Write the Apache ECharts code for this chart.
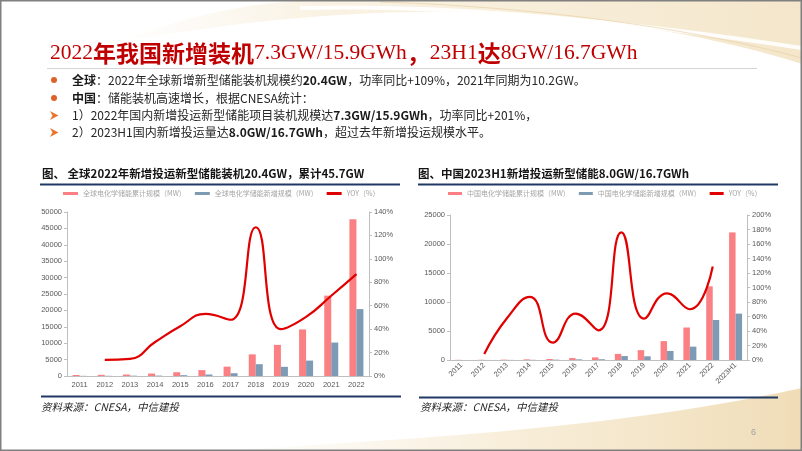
<!DOCTYPE html>
<html>
<head>
<meta charset="utf-8">
<script src="https://cdn.jsdelivr.net/npm/echarts@6/dist/echarts.min.js"></script>
<style>
html,body{margin:0;padding:0;background:#fff;}
#c{width:802px;height:451px;}
</style>
</head>
<body>
<div id="c"></div>
<script>
// ---- data ----
const years1 = ['2011','2012','2013','2014','2015','2016','2017','2018','2019','2020','2021','2022'];
const globalCum = [300, 350, 450, 750, 1150, 1800, 2850, 6600, 9500, 14200, 24500, 47800];
const globalNew = [50, 60, 100, 120, 250, 450, 850, 3600, 2800, 4700, 10200, 20400];
const globalYoy = [null, 13.7, 14.6, 29, 42.5, 53, 48, 127, 40, 50.5, 68.5, 87];

const years2 = ['2011','2012','2013','2014','2015','2016','2017','2018','2019','2020','2021','2022','2023H1'];
const chinaCum = [30, 40, 60, 110, 170, 330, 450, 1050, 1700, 3250, 5600, 12700, 22000];
const chinaNew = [5, 10, 20, 30, 60, 110, 130, 680, 640, 1560, 2300, 6900, 8000];
const chinaYoy = [null, 8.3, 58, 87, 24, 64, 41, 176, 57, 92, 70, 129, null];

const names1 = ['全球电化学储能累计规模（MW）', '全球电化学储能新增规模（MW）', 'YOY（%）'];
const names2 = ['中国电化学储能累计规模（MW）', '中国电化学储能新增规模（MW）', 'YOY（%） '];

const axis1 = {leftMax: 50000, leftStep: 5000, rightMax: 140, rightStep: 20};
const axis2 = {leftMax: 25000, leftStep: 5000, rightMax: 200, rightStep: 20};

// ---- styling ----
const RED_BAR = '#FA8083';
const BLUE_BAR = '#7D9BB5';
const LINE_RED = '#E00000';
const AX = '#bfbfbf';
const LBL = '#595959';
const CJK = '"Noto Sans CJK SC", "Noto Sans", sans-serif';

function valAxis(grid, max, step, right, pct) {
  return {
    type: 'value', gridIndex: grid, min: 0, max: max, interval: step,
    position: right ? 'right' : 'left',
    axisLine: {show: true, lineStyle: {color: AX}},
    axisTick: {show: true, length: 3, lineStyle: {color: AX}},
    splitLine: {show: false},
    axisLabel: {fontSize: 7.5, color: LBL, margin: 5, fontFamily: 'Liberation Sans',
      formatter: function (v) { return pct ? v + '%' : String(v); }}
  };
}
function catAxis(grid, data, rotate) {
  return {
    type: 'category', gridIndex: grid, data: data,
    axisLine: {lineStyle: {color: AX}},
    axisTick: {length: 4, lineStyle: {color: AX}},
    axisLabel: {fontSize: 7.5, color: LBL, margin: rotate ? 4 : 5, interval: 0, rotate: rotate || 0,
      fontFamily: 'Liberation Sans'}
  };
}

// decorative background shape helper (sample cubic beziers into polygon points)
function bez(p0, p1, p2, p3, n) {
  const pts = [];
  for (let i = 0; i <= n; i++) {
    const t = i / n, u = 1 - t;
    pts.push([
      u*u*u*p0[0] + 3*u*u*t*p1[0] + 3*u*t*t*p2[0] + t*t*t*p3[0],
      u*u*u*p0[1] + 3*u*u*t*p1[1] + 3*u*t*t*p2[1] + t*t*t*p3[1]
    ]);
  }
  return pts;
}

const topShape = [].concat(
  bez([120, 42], [180, 18], [250, 0], [330, 0], 20),
  [[802, 0], [802, 64]],
  bez([802, 64], [720, 38], [600, 14], [460, 12], 20),
  bez([460, 12], [340, 10], [220, 24], [120, 42], 20)
);
const bottomShape = [].concat(
  bez([220, 451], [380, 440], [600, 432], [802, 388], 30),
  [[802, 451]]
);

const chart = echarts.init(document.getElementById('c'), null, {renderer: 'canvas'});

const bulletRich = {
  b: {fontWeight: 'bold', fontSize: 12, fontFamily: CJK, fill: '#1a1a1a'}
};

function bulletText(y, txt) {
  return {type: 'text', x: 72, y: y, style: {text: txt, font: '12px ' + CJK, fill: '#262626',
    verticalAlign: 'middle', rich: bulletRich}};
}

const option = {
  animation: false,
  backgroundColor: '#fff',
  graphic: [
    {type: 'polygon', z: -5, shape: {points: topShape},
      style: {fill: new echarts.graphic.LinearGradient(0, 0, 1, 0, [
        {offset: 0, color: 'rgba(245,232,205,0.0)'},
        {offset: 0.3, color: 'rgba(245,232,205,0.55)'},
        {offset: 1, color: 'rgba(240,222,185,0.75)'}])}},
    {type: 'bezierCurve', z: -4, shape: {x1: 300, y1: 8, cpx1: 450, cpy1: 4, cpx2: 620, cpy2: 20, x2: 802, y2: 48},
      style: {fill: null, stroke: 'rgba(255,255,255,0.9)', lineWidth: 4}},
    {type: 'bezierCurve', z: -4, shape: {x1: 380, y1: 2, cpx1: 520, cpy1: 6, cpx2: 680, cpy2: 25, x2: 802, y2: 58},
      style: {fill: null, stroke: 'rgba(230,205,160,0.6)', lineWidth: 1}},
    {type: 'polygon', z: -5, shape: {points: bottomShape},
      style: {fill: new echarts.graphic.LinearGradient(0, 0, 1, 0, [
        {offset: 0, color: 'rgba(245,232,205,0.0)'},
        {offset: 0.5, color: 'rgba(243,226,192,0.6)'},
        {offset: 1, color: 'rgba(236,212,165,0.8)'}])}},
    {type: 'rect', z: 10, shape: {x: 0.75, y: 0.75, width: 800.5, height: 449.5},
      style: {fill: null, stroke: '#808080', lineWidth: 1.5}},
    {type: 'text', x: 50, y: 53, style: {
      text: '{c|2022}{h|年我国新增装机}{c|7.3GW/15.9GWh}{h|，}{c|23H1}{h|达}{c|8GW/16.7GWh}',
      verticalAlign: 'middle', fill: '#C00000',
      rich: {
        c: {fontFamily: 'Liberation Serif', fontSize: 21.5, fill: '#C00000'},
        h: {fontFamily: CJK, fontWeight: 'bold', fontSize: 23, fill: '#C00000'}
      }}},
    {type: 'line', shape: {x1: 47, y1: 68.5, x2: 757, y2: 68.5}, style: {stroke: '#d4d4d4', lineWidth: 1}},
    {type: 'circle', shape: {cx: 54, cy: 80, r: 3}, style: {fill: '#E0602A'}},
    {type: 'circle', shape: {cx: 54, cy: 98, r: 3}, style: {fill: '#E0602A'}},
    {type: 'polygon', shape: {points: [[50, 111], [58.5, 115.5], [50, 120], [52.5, 115.5]]}, style: {fill: '#E8762C'}},
    {type: 'polygon', shape: {points: [[50, 128], [58.5, 132.5], [50, 137], [52.5, 132.5]]}, style: {fill: '#E8762C'}},
    bulletText(80, '{b|全球}：2022年全球新增新型储能装机规模约{b|20.4GW}，功率同比+109%，2021年同期为10.2GW。'),
    bulletText(98, '{b|中国}：储能装机高速增长，根据CNESA统计：'),
    bulletText(115.5, '1）2022年国内新增投运新型储能项目装机规模达{b|7.3GW/15.9GWh}，功率同比+201%，'),
    bulletText(132.5, '2）2023H1国内新增投运量达{b|8.0GW/16.7GWh}，超过去年新增投运规模水平。'),
    {type: 'text', x: 42, y: 174, style: {text: '图、 全球2022年新增投运新型储能装机20.4GW，累计45.7GW',
      font: 'bold 11.5px ' + CJK, fill: '#141414', verticalAlign: 'middle'}},
    {type: 'text', x: 418, y: 174, style: {text: '图、中国2023H1新增投运新型储能8.0GW/16.7GWh',
      font: 'bold 11.5px ' + CJK, fill: '#141414', verticalAlign: 'middle'}},
    {type: 'line', shape: {x1: 40, y1: 184.5, x2: 400, y2: 184.5}, style: {stroke: '#1F3864', lineWidth: 2}},
    {type: 'line', shape: {x1: 418, y1: 184.5, x2: 778, y2: 184.5}, style: {stroke: '#1F3864', lineWidth: 2}},
    {type: 'line', shape: {x1: 41, y1: 396.5, x2: 401, y2: 396.5}, style: {stroke: '#1F3864', lineWidth: 2}},
    {type: 'line', shape: {x1: 419, y1: 397.5, x2: 778, y2: 397.5}, style: {stroke: '#1F3864', lineWidth: 2}},
    {type: 'text', x: 41, y: 407.5, style: {text: '资料来源：CNESA，中信建投', font: 'italic 10.5px ' + CJK,
      fill: '#262626', verticalAlign: 'middle'}},
    {type: 'text', x: 420, y: 407.5, style: {text: '资料来源：CNESA，中信建投', font: 'italic 10.5px ' + CJK,
      fill: '#262626', verticalAlign: 'middle'}},
    {type: 'text', x: 751, y: 433, style: {text: '6', font: '9px Liberation Sans', fill: '#a0a0a0', verticalAlign: 'middle'}}
  ],
  legend: [
    {left: 63, top: 190, itemWidth: 15, itemHeight: 3, itemGap: 9, icon: 'rect', padding: 0,
      data: names1, textStyle: {fontSize: 7, color: '#a6a6a6', fontFamily: CJK}},
    {left: 448, top: 190, itemWidth: 14, itemHeight: 3, itemGap: 9, icon: 'rect', padding: 0,
      data: names2, textStyle: {fontSize: 7, color: '#a6a6a6', fontFamily: CJK}}
  ],
  grid: [
    {left: 67, top: 212, width: 302, height: 164},
    {left: 450, top: 215, width: 297, height: 145}
  ],
  xAxis: [catAxis(0, years1, 0), catAxis(1, years2, 45)],
  yAxis: [
    valAxis(0, axis1.leftMax, axis1.leftStep, false, false),
    valAxis(0, axis1.rightMax, axis1.rightStep, true, true),
    valAxis(1, axis2.leftMax, axis2.leftStep, false, false),
    valAxis(1, axis2.rightMax, axis2.rightStep, true, true)
  ],
  series: [
    {name: names1[0], type: 'bar', xAxisIndex: 0, yAxisIndex: 0, data: globalCum, barWidth: 7, barGap: '0%', itemStyle: {color: RED_BAR}},
    {name: names1[1], type: 'bar', xAxisIndex: 0, yAxisIndex: 0, data: globalNew, barWidth: 7, barGap: '0%', itemStyle: {color: BLUE_BAR}},
    {name: names1[2], type: 'line', xAxisIndex: 0, yAxisIndex: 1, data: globalYoy, smooth: true, showSymbol: false,
      lineStyle: {color: LINE_RED, width: 2.2}, itemStyle: {color: LINE_RED}},
    {name: names2[0], type: 'bar', xAxisIndex: 1, yAxisIndex: 2, data: chinaCum, barWidth: 6.5, barGap: '0%', itemStyle: {color: RED_BAR}},
    {name: names2[1], type: 'bar', xAxisIndex: 1, yAxisIndex: 2, data: chinaNew, barWidth: 6.5, barGap: '0%', itemStyle: {color: BLUE_BAR}},
    {name: names2[2], type: 'line', xAxisIndex: 1, yAxisIndex: 3, data: chinaYoy, smooth: true, showSymbol: false,
      lineStyle: {color: LINE_RED, width: 2.2}, itemStyle: {color: LINE_RED}}
  ]
};
chart.setOption(option);
</script>
</body>
</html>
